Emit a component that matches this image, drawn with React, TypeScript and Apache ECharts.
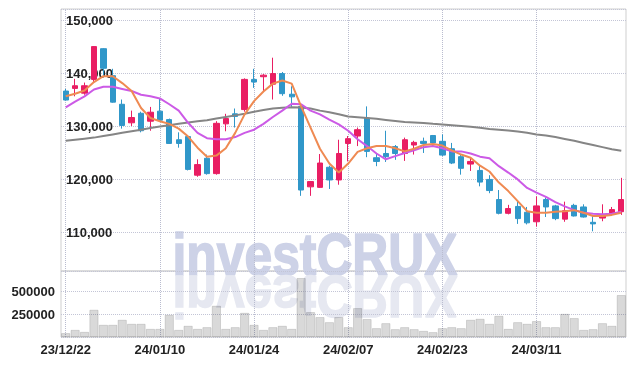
import React, { useEffect, useRef } from 'react';
import * as echarts from 'echarts';

const categories = ['23/12/22','23/12/26','23/12/27','23/12/28','24/01/02','24/01/03','24/01/04','24/01/05','24/01/08','24/01/09','24/01/10','24/01/11','24/01/12','24/01/15','24/01/16','24/01/17','24/01/18','24/01/19','24/01/22','24/01/23','24/01/24','24/01/25','24/01/26','24/01/29','24/01/30','24/01/31','24/02/01','24/02/02','24/02/05','24/02/06','24/02/07','24/02/08','24/02/13','24/02/14','24/02/15','24/02/16','24/02/19','24/02/20','24/02/21','24/02/22','24/02/23','24/02/26','24/02/27','24/02/28','24/02/29','24/03/04','24/03/05','24/03/06','24/03/07','24/03/08','24/03/11','24/03/12','24/03/13','24/03/14','24/03/15','24/03/18','24/03/19','24/03/20','24/03/21','24/03/22'];

const opens = [136700,137200,136300,138900,144700,139600,134200,130700,132500,131000,132900,131300,127500,128100,120800,124000,121100,130500,132400,133200,138900,139400,138000,140000,136100,133800,118600,118500,122300,119900,126800,128200,131600,124100,124900,126200,124900,126500,127200,128300,127200,125800,124300,122900,121700,120000,116200,113600,114900,113800,112000,116200,115000,112500,115100,114800,111900,112700,113400,113900];
const closes = [135000,137700,137700,145100,141000,134600,130200,131700,129200,132700,131200,126800,126800,121900,122800,121100,130600,131500,131900,138900,138400,139700,140000,136200,135600,118000,119600,123100,119900,124900,127700,129400,125300,123400,124300,124900,127500,127000,126800,126900,124600,123100,122100,123400,119500,117900,113600,114500,112600,111800,115000,114800,112600,114100,113100,112900,111600,113300,114300,116200];
const highs = [137100,139000,138300,145200,144800,140900,135100,133000,132800,133700,135200,131500,128900,128200,123800,124700,131000,132400,133400,139100,140900,139900,143000,140300,137600,134000,119700,124800,122600,127500,128200,129800,133800,125000,129200,126500,127900,127300,127900,128400,128500,126900,124800,124200,122600,120800,118000,115200,115800,114800,116800,116600,115200,115800,115400,115300,113200,115300,114800,120300];
const lows = [134900,135700,136000,138400,139500,134500,129600,130100,128900,129200,131000,126700,126000,121700,120500,120900,120900,129100,129800,132800,137300,136700,135100,135800,133700,116900,116900,118400,118200,119000,123400,126300,124200,122500,123300,123700,123500,124700,125000,126200,124400,122900,120900,121600,118700,117400,113400,113400,111600,111500,111100,112900,112300,112000,113000,112800,110200,112100,113200,113300];

const ma5 = [135700,136200,136800,138400,139500,139500,138200,136700,133500,131600,131000,130500,129600,128100,126000,124300,124500,125900,128800,132300,134800,136600,138100,138700,138100,133800,129800,125800,123000,121300,123000,125200,125900,126300,126300,125900,125300,125800,126500,126700,126400,125500,124700,124100,122600,121500,119400,117800,115900,114000,113700,113700,113900,114000,114200,113700,113100,113100,113300,113700];
const ma20 = [133600,134700,135700,137000,137500,137500,137100,136700,136000,135700,135300,134200,133000,130700,128800,127800,127600,127600,128000,128800,129400,130500,131800,133000,134300,134200,133000,132300,131300,130400,129200,127600,126300,124900,123800,124400,125000,125500,126100,126300,125900,125300,125300,124900,124300,124000,122500,121300,120000,118400,117500,116700,115700,114900,114200,113700,113500,113400,113500,113900];
const ma60 = [127300,127500,127700,127900,128200,128500,128800,129100,129400,129700,130000,130250,130500,130750,131000,131200,131500,131800,132100,132400,132800,133100,133400,133550,133650,133600,133400,133000,132700,132300,131900,131750,131600,131450,131250,131050,130850,130750,130650,130500,130400,130250,130100,129950,129750,129550,129400,129250,129050,128800,128500,128300,128000,127650,127300,126900,126500,126100,125700,125400];
const volumes = [41000,77000,55000,299000,133000,133000,188000,144000,144000,88000,88000,243000,77000,122000,88000,107000,343000,88000,107000,265000,133000,77000,107000,122000,88000,649000,273000,218000,162000,218000,107000,317000,196000,96000,151000,85000,107000,85000,66000,52000,96000,107000,96000,188000,199000,144000,232000,88000,162000,144000,174000,107000,107000,254000,207000,77000,85000,151000,122000,461000];
const labelDates = ['23/12/22','24/01/10','24/01/24','24/02/07','24/02/23','24/03/11'];

const UP = '#e91e63';
const DOWN = '#3097c9';
const FONT = "'Liberation Sans', Arial, sans-serif";
const WM_FONT = "bold 60px 'Liberation Sans', Arial, sans-serif";

export default function App() {
  const ref = useRef<HTMLDivElement>(null);
  useEffect(() => {
    const chart = echarts.init(ref.current!, undefined, { renderer: 'svg' });
    const candleData = categories.map((_, i) => [opens[i], closes[i], lows[i], highs[i]]);
    const vLines = labelDates.map((d) => ({ xAxis: d }));
    const markLine = {
      silent: true,
      z: 1,
      symbol: ['none', 'none'],
      label: { show: false },
      lineStyle: { type: 'dotted', color: '#b9bccf', width: 1 },
      data: vLines,
    };
    const splitStyle = { show: true, lineStyle: { type: 'dotted', color: '#c3c5d6', width: 1 } };
    const labelStyle = { color: '#222', fontSize: 13, fontWeight: 'bold', fontFamily: FONT };
    chart.setOption({
      animation: false,
      grid: [
        { left: 61, right: 8, top: 9, height: 262, show: true, borderColor: '#cfcfcf', borderWidth: 1 },
        { left: 61, right: 8, top: 271, height: 66, show: true, borderColor: '#cfcfcf', borderWidth: 1 },
      ],
      xAxis: [
        { type: 'category', gridIndex: 0, data: categories, boundaryGap: true, axisLine: { show: false }, axisTick: { show: false }, axisLabel: { show: false }, splitLine: { show: false } },
        { type: 'category', gridIndex: 1, data: categories, boundaryGap: true, axisLine: { show: false }, axisTick: { show: false },
          axisLabel: { interval: 9, margin: 6, ...labelStyle }, splitLine: { show: false } },
      ],
      yAxis: [
        { type: 'value', gridIndex: 0, min: 102700, max: 152200, splitNumber: 5, axisLine: { show: false }, axisTick: { show: false },
          axisLabel: { inside: true, margin: 5, ...labelStyle,
            formatter: (v: number) => (v % 10000 === 0 ? v.toLocaleString('en-US') : '') },
          splitLine: splitStyle },
        { type: 'value', gridIndex: 1, min: 0, max: 728000, interval: 250000, axisLine: { show: false }, axisTick: { show: false },
          axisLabel: { margin: 6, ...labelStyle,
            formatter: (v: number) => (v === 250000 || v === 500000 ? String(v) : '') },
          splitLine: splitStyle },
      ],
      series: [
        { type: 'candlestick', xAxisIndex: 0, yAxisIndex: 0, data: candleData, barWidth: '62%',
          itemStyle: { color: UP, color0: DOWN, borderColor: UP, borderColor0: DOWN, borderWidth: 1 },
          markLine },
        { type: 'line', xAxisIndex: 0, yAxisIndex: 0, data: ma60, symbol: 'none', lineStyle: { width: 2, color: '#858585' }, itemStyle: { color: '#858585' } },
        { type: 'line', xAxisIndex: 0, yAxisIndex: 0, data: ma20, symbol: 'none', lineStyle: { width: 2, color: '#cc5ae6' }, itemStyle: { color: '#cc5ae6' } },
        { type: 'line', xAxisIndex: 0, yAxisIndex: 0, data: ma5, symbol: 'none', lineStyle: { width: 2, color: '#ef8a52' }, itemStyle: { color: '#ef8a52' } },
        { type: 'bar', xAxisIndex: 1, yAxisIndex: 1, data: volumes, barCategoryGap: '6%',
          itemStyle: { color: 'rgba(0,0,0,0.15)', borderColor: 'rgba(0,0,0,0.22)', borderWidth: 0.6 }, markLine },
      ],
      graphic: [
        { type: 'text', x: 315, y: 254, scaleX: 0.83, z: 0, silent: true,
          style: { text: 'investCRUX', fill: '#cdd2e7', stroke: '#cdd2e7', lineWidth: 1.6, font: WM_FONT, textAlign: 'center', textVerticalAlign: 'middle' } },
        { type: 'text', x: 315, y: 297, scaleX: 0.83, scaleY: -1, z: 0, silent: true,
          style: { text: 'investCRUX', fill: '#e6e8f1', stroke: '#e6e8f1', lineWidth: 1.6, font: WM_FONT, textAlign: 'center', textVerticalAlign: 'middle' } },
      ],
    });
    return () => chart.dispose();
  }, []);
  return <div ref={ref} style={{ position: 'fixed', left: 0, top: 0, width: 634, height: 366 }} />;
}
